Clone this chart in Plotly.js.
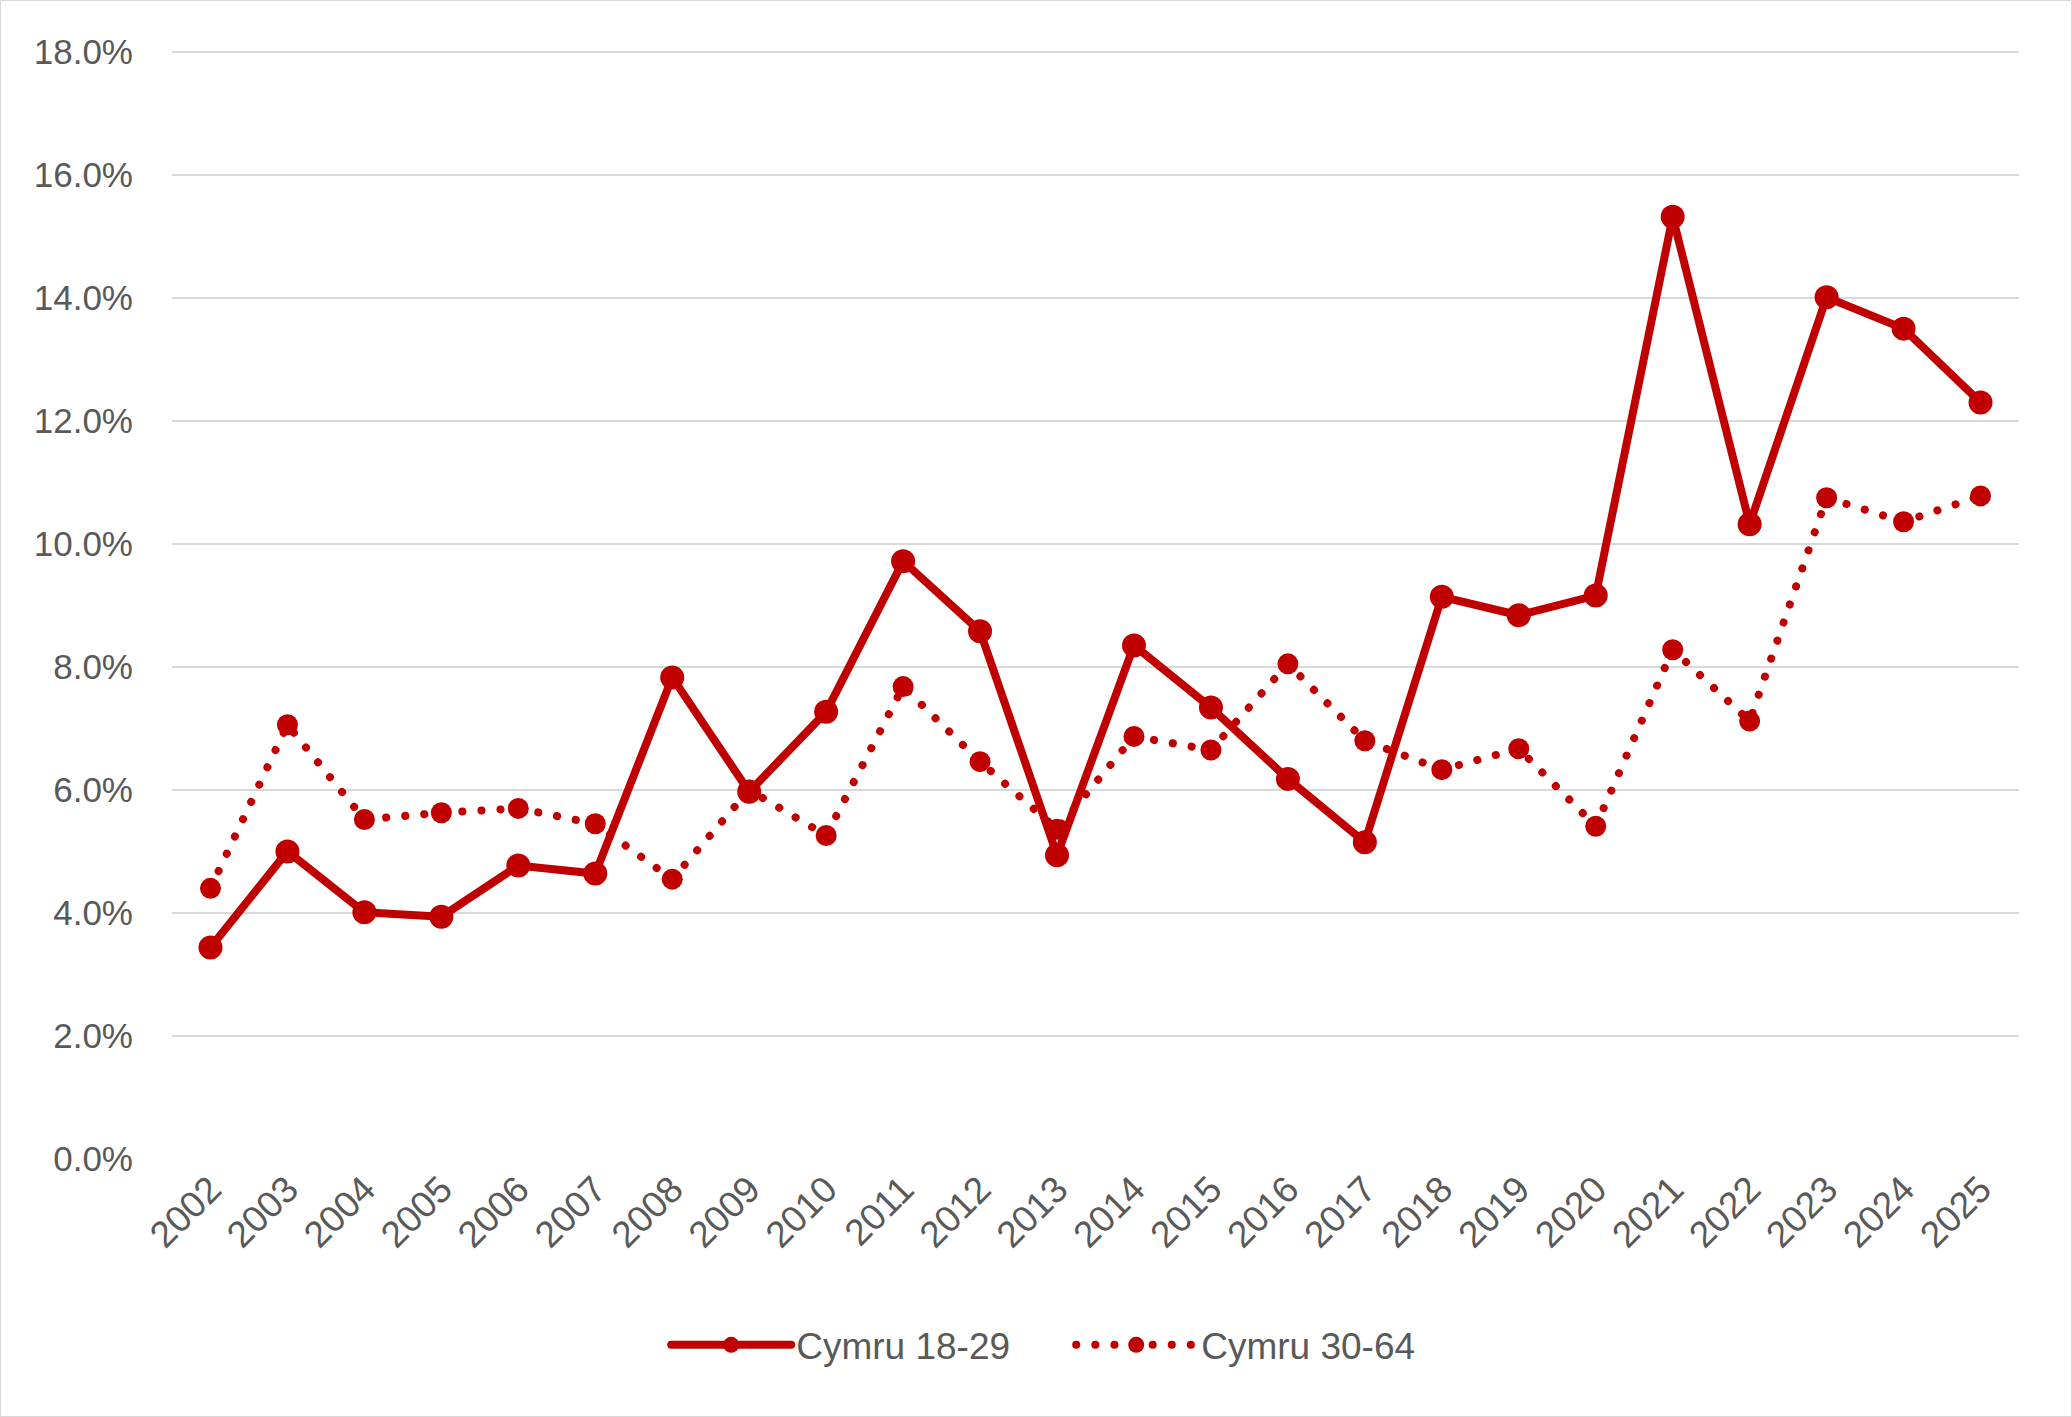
<!DOCTYPE html>
<html>
<head>
<meta charset="utf-8">
<script src="https://cdn.plot.ly/plotly-3.0.1.min.js"></script>
<style>
  body { margin: 0; background: #fff; }
  #chart { width: 2070px; height: 1415px; border: 1px solid #d9d9d9; }
  .js-line { stroke-linecap: round; }
</style>
</head>
<body>
<div id="chart"></div>
<script>
const years = ['2002','2003','2004','2005','2006','2007','2008','2009','2010','2011','2012','2013',
  '2014','2015','2016','2017','2018','2019','2020','2021','2022','2023','2024','2025'];

// percent values
const cymru1829 = [3.44, 5.00, 4.01, 3.94, 4.77, 4.64, 7.83, 5.97, 7.27, 9.72, 8.58, 4.94,
  8.35, 7.34, 6.18, 5.15, 9.14, 8.84, 9.16, 15.32, 10.32, 14.01, 13.50, 12.30];
const cymru3064 = [4.40, 7.06, 5.52, 5.63, 5.70, 5.45, 4.55, 6.00, 5.26, 7.68, 6.46, 5.36,
  6.87, 6.65, 8.05, 6.80, 6.33, 6.67, 5.41, 8.28, 7.12, 10.75, 10.36, 10.78];

const red = '#c00000';
const fontFam = 'Liberation Sans, Arial, sans-serif';

var data = [
  {
    x: years, y: cymru1829, name: 'Cymru 18-29',
    type: 'scatter', mode: 'lines+markers',
    line: { color: red, width: 8 },
    marker: { color: red, size: 24, symbol: 'circle' }
  },
  {
    x: years, y: cymru3064, name: 'Cymru 30-64',
    type: 'scatter', mode: 'lines+markers',
    line: { color: red, width: 8, dash: '0.1px,19px' },
    marker: { color: red, size: 21, symbol: 'circle' }
  }
];

var layout = {
  width: 2070, height: 1415,
  margin: { l: 171, r: 52, t: 49, b: 257 },
  paper_bgcolor: '#fff', plot_bgcolor: '#fff',
  font: { family: fontFam, size: 35, color: '#595959' },
  showlegend: true,
  legend: {
    orientation: 'h', xref: 'container', x: 0.517, xanchor: 'center',
    yref: 'container', y: 0.05, yanchor: 'middle',
    font: { size: 37, color: '#595959' }, itemwidth: 120,
    entrywidth: 270, entrywidthmode: 'pixels'
  },
  xaxis: {
    type: 'category', range: [-0.5, 23.5], tickangle: -45, showgrid: false, zeroline: false,
    showline: false, ticks: '', tickfont: { size: 37, color: '#595959' }
  },
  yaxis: {
    range: [0, 18.03], dtick: 2, tickformat: '.1f', ticksuffix: '%',
    showgrid: true, gridcolor: '#d9d9d9', gridwidth: 2,
    zeroline: false, showline: false, ticks: '', ticklabelstandoff: 38,
    tickfont: { size: 35, color: '#595959' }
  }
};

Plotly.newPlot('chart', data, layout, { displayModeBar: false });
</script>
</body>
</html>
